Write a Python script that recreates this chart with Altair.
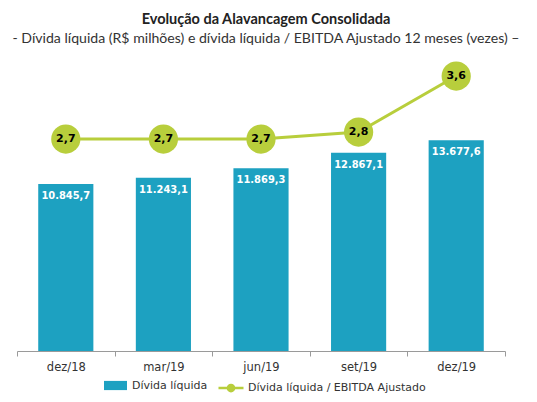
import altair as alt
import pandas as pd

categories = ["dez/18", "mar/19", "jun/19", "set/19", "dez/19"]
net_debt = [10845.7, 11243.1, 11869.3, 12867.1, 13677.6]
leverage = [2.7, 2.7, 2.7, 2.8, 3.6]

series_bar = "Dívida líquida"
series_line = "Dívida líquida / EBITDA Ajustado"


def br(v, d):
    s = f"{v:,.{d}f}"
    return s.replace(",", "X").replace(".", ",").replace("X", ".")


df = pd.DataFrame({
    "cat": categories,
    "debt": net_debt,
    "lev": leverage,
    "debt_lbl": [br(v, 1) for v in net_debt],
    "lev_lbl": [br(v, 1) for v in leverage],
    "s1": series_bar,
    "s2": series_line,
})

BLUE = "#1DA1C1"
GREEN = "#B8CE3C"

x = alt.X(
    "cat:N", sort=categories, title=None,
    scale=alt.Scale(paddingInner=0, paddingOuter=0),
    axis=alt.Axis(labelAngle=0, tickBand="extent", domainColor="#9a9a9a",
                  tickColor="#9a9a9a", tickSize=5, labelFont="DejaVu Sans",
                  labelFontSize=11.5, labelColor="#333333", labelPadding=5,
                  grid=False),
)

base = alt.Chart(df)

ybar = alt.Y("debt:Q", scale=alt.Scale(domain=[0, 18896], nice=False, zero=True), axis=None)

bars = base.mark_bar(width=alt.RelativeBandSize(0.565)).encode(
    x=x,
    y=ybar,
    fill=alt.Fill("s1:N", scale=alt.Scale(range=[BLUE]),
                  legend=alt.Legend(title=None, orient="none", legendX=87, legendY=314,
                                    symbolType="M-1,-0.4H1V0.4H-1Z", symbolSize=529,
                                    symbolStrokeWidth=0, labelFont="DejaVu Sans",
                                    labelFontSize=11, labelColor="#333333", labelOffset=5,
                                    labelLimit=0)),
)

bar_text = base.mark_text(color="white", font="DejaVu Sans Condensed", fontWeight="bold",
                          fontSize=11, dy=12, baseline="middle").encode(
    x=x, y=ybar, text="debt_lbl:N")

yline = alt.Y("lev:Q", scale=alt.Scale(domain=[-0.329, 3.829], nice=False, zero=False), axis=None)

line = base.mark_line(strokeWidth=3).encode(
    x=x,
    y=yline,
    stroke=alt.Stroke("s2:N", scale=alt.Scale(range=[GREEN]),
                      legend=alt.Legend(title=None, orient="none", legendX=200, legendY=314,
                                        symbolType="M-1,0H1M0.25,0A0.25,0.25,0,1,1,-0.25,0A0.25,0.25,0,1,1,0.25,0Z",
                                        symbolSize=625, symbolStrokeWidth=2.5,
                                        symbolFillColor=GREEN, labelFont="DejaVu Sans",
                                        labelFontSize=11, labelColor="#333333", labelOffset=3,
                                        labelLimit=0)),
)

points = base.mark_circle(size=855, color=GREEN, opacity=1).encode(x=x, y=yline)

pt_text = base.mark_text(color="black", font="DejaVu Sans", fontWeight="bold",
                         fontSize=11, baseline="middle").encode(
    x=x, y=yline, text="lev_lbl:N")

chart = alt.layer(
    alt.layer(bars, bar_text),
    alt.layer(line, points, pt_text),
).resolve_scale(y="independent").properties(
    width=488,
    height=291,
    autosize=alt.AutoSizeParams(type="none"),
    padding={"left": 9, "top": 52, "right": 24, "bottom": 43},
    title=alt.TitleParams(
        text="Evolução da Alavancagem Consolidada",
        subtitle="- Dívida líquida (R$ milhões) e dívida líquida / EBITDA Ajustado 12 meses (vezes) –",
        font="Lato", fontSize=14.5, fontWeight="bold", color="#222222",
        subtitleFont="Lato", subtitleFontSize=14.1, subtitleColor="#333333",
        subtitlePadding=4, anchor="middle", dx=5, offset=13,
    ),
).configure_view(stroke=None)

chart.save("out.html", embed_options={"renderer": "svg", "actions": False})
